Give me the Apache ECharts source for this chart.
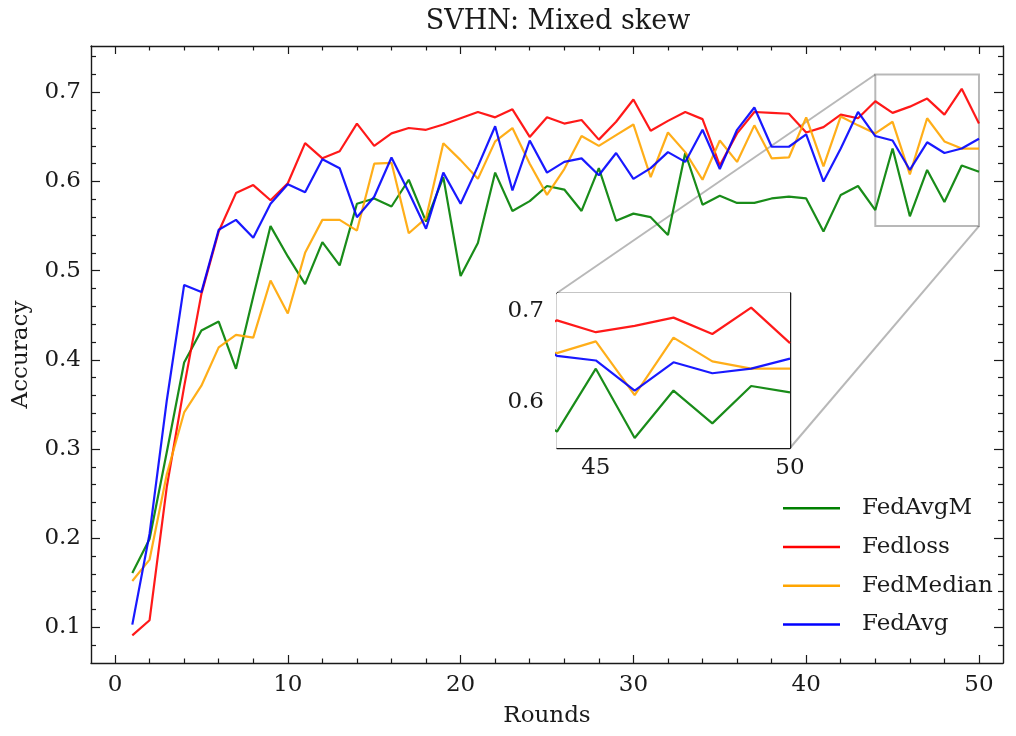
<!DOCTYPE html>
<html>
<head>
<meta charset="utf-8">
<script src="https://cdn.jsdelivr.net/npm/echarts@6/dist/echarts.min.js"></script>
<style>
html, body { margin: 0; padding: 0; background: #fff; }
#main { width: 1016px; height: 736px; }
</style>
</head>
<body>
<div id="main"></div>
<script>
var rounds = [1, 2, 3, 4, 5, 6, 7, 8, 9, 10, 11, 12, 13, 14, 15, 16, 17, 18, 19, 20,
	21, 22, 23, 24, 25, 26, 27, 28, 29, 30, 31, 32, 33, 34, 35, 36, 37, 38, 39, 40,
	41, 42, 43, 44, 45, 46, 47, 48, 49, 50];

var fedAvgM = [0.161, 0.199, 0.297, 0.397, 0.433, 0.443, 0.390, 0.471, 0.550, 0.516,
	0.485, 0.532, 0.506, 0.575, 0.581, 0.572, 0.602, 0.555, 0.605, 0.494,
	0.531, 0.610, 0.567, 0.578, 0.595, 0.591, 0.567, 0.615, 0.556, 0.564,
	0.560, 0.540, 0.632, 0.574, 0.584, 0.576, 0.576, 0.581, 0.583, 0.581,
	0.544, 0.585, 0.595, 0.568, 0.637, 0.561, 0.613, 0.577, 0.618, 0.611];

var fedLoss = [0.091, 0.108, 0.258, 0.370, 0.474, 0.544, 0.587, 0.596, 0.579, 0.598,
	0.643, 0.626, 0.634, 0.665, 0.640, 0.654, 0.660, 0.658, 0.664, 0.671,
	0.678, 0.672, 0.681, 0.650, 0.672, 0.665, 0.669, 0.647, 0.667, 0.692,
	0.657, 0.668, 0.678, 0.670, 0.618, 0.654, 0.678, 0.677, 0.676, 0.655,
	0.661, 0.675, 0.671, 0.690, 0.677, 0.684, 0.693, 0.675, 0.704, 0.665];

var fedMedian = [0.152, 0.176, 0.272, 0.341, 0.371, 0.414, 0.428, 0.425, 0.489, 0.452,
	0.520, 0.557, 0.557, 0.545, 0.620, 0.621, 0.542, 0.559, 0.643, 0.624,
	0.603, 0.645, 0.660, 0.620, 0.585, 0.614, 0.651, 0.640, 0.652, 0.664,
	0.605, 0.655, 0.633, 0.602, 0.646, 0.622, 0.663, 0.626, 0.627, 0.672,
	0.617, 0.673, 0.663, 0.654, 0.667, 0.608, 0.671, 0.645, 0.637, 0.637];

var fedAvg = [0.103, 0.205, 0.355, 0.484, 0.476, 0.546, 0.557, 0.537, 0.575, 0.597,
	0.588, 0.625, 0.615, 0.560, 0.583, 0.627, 0.588, 0.547, 0.610, 0.575,
	0.617, 0.662, 0.590, 0.646, 0.610, 0.622, 0.626, 0.607, 0.632, 0.603,
	0.615, 0.633, 0.622, 0.658, 0.614, 0.658, 0.683, 0.639, 0.639, 0.653,
	0.600, 0.637, 0.678, 0.651, 0.646, 0.613, 0.644, 0.632, 0.637, 0.648];

var names = ['FedAvgM', 'Fedloss', 'FedMedian', 'FedAvg'];
var colors = ['#008000', '#ff0000', '#ffa500', '#0000ff'];

// tick positions
var xMajor = [0, 10, 20, 30, 40, 50];
var xMinor = [2, 4, 6, 8, 12, 14, 16, 18, 22, 24, 26, 28, 32, 34, 36, 38, 42, 44, 46, 48];
var yMajor = [0.1, 0.2, 0.3, 0.4, 0.5, 0.6, 0.7];
var yMinor = [0.08, 0.12, 0.14, 0.16, 0.18, 0.22, 0.24, 0.26, 0.28, 0.32, 0.34, 0.36, 0.38,
	0.42, 0.44, 0.46, 0.48, 0.52, 0.54, 0.56, 0.58, 0.62, 0.64, 0.66, 0.68, 0.72, 0.74];

// zoomed region
var zoomX = [44, 50];
var zoomY = [0.55, 0.72];
var insetXMajor = [45, 50];
var insetXMinor = [46, 47, 48, 49];
var insetYMajor = [0.6, 0.7];
var insetYMinor = [0.56, 0.58, 0.62, 0.64, 0.66, 0.68];

var FONT = 'DejaVu Serif';
var INK = '#1a1a1a';

var mainRect = { left: 91, right: 13, top: 46, bottom: 73 };
var insetRect = { left: 557, top: 293, width: 233, height: 155 };

// one axis per side; majors and minors live on two grids with the same rect
function sideAxes(dim, grid, min, max, ticks, len, showLine, labelOpt) {
	var sides = dim === 'x' ? ['bottom', 'top'] : ['left', 'right'];
	return sides.map(function(side, k) {
		var ax = {
			type: 'value',
			gridIndex: grid,
			position: side,
			min: min,
			max: max,
			axisLine: { show: showLine, onZero: false, lineStyle: { color: INK, width: 1.4 } },
			axisTick: { show: true, inside: true, length: len, customValues: ticks,
				lineStyle: { color: INK, width: 1.2 } },
			axisLabel: { show: false },
			splitLine: { show: false }
		};
		if (k === 0 && labelOpt) {
			ax.axisLabel = Object.assign({
				show: true,
				customValues: ticks,
				fontFamily: FONT,
				fontSize: 23,
				color: INK
			}, labelOpt);
		}
		return ax;
	});
}

var fmtInt = function(v) { return String(v); };
var fmtDec = function(v) { return v.toFixed(1); };

// grid 0: main majors, grid 1: main minors, grid 2: inset majors, grid 3: inset minors
var xAxes = []
	.concat(sideAxes('x', 0, -1.39, 51.39, xMajor, 8, true, { margin: 11, formatter: fmtInt }))
	.concat(sideAxes('x', 1, -1.39, 51.39, xMinor, 4.5, false))
	.concat(sideAxes('x', 2, zoomX[0], zoomX[1], insetXMajor, 7, true, { margin: 9, formatter: fmtInt }))
	.concat(sideAxes('x', 3, zoomX[0], zoomX[1], insetXMinor, 5, false));
var yAxes = []
	.concat(sideAxes('y', 0, 0.06, 0.752, yMajor, 9, true, { margin: 10, formatter: fmtDec }))
	.concat(sideAxes('y', 1, 0.06, 0.752, yMinor, 5, false))
	.concat(sideAxes('y', 2, zoomY[0], zoomY[1], insetYMajor, 7, true, { margin: 13, formatter: fmtDec }))
	.concat(sideAxes('y', 3, zoomY[0], zoomY[1], insetYMinor, 5, false));

xAxes[0].name = 'Rounds';
xAxes[0].nameLocation = 'middle';
xAxes[0].nameGap = 42;
xAxes[0].nameTextStyle = { fontFamily: FONT, fontSize: 23, color: INK };

yAxes[0].name = 'Accuracy';
yAxes[0].nameLocation = 'middle';
yAxes[0].nameGap = 58;
yAxes[0].nameRotate = 90;
yAxes[0].nameTextStyle = { fontFamily: FONT, fontSize: 23, color: INK };

// main axes are index 0 (x bottom / y left), inset axes are index 4
var dataSets = [fedAvgM, fedLoss, fedMedian, fedAvg];
var series = [];
[0, 4].forEach(function(axisIdx) {
	dataSets.forEach(function(vals, i) {
		series.push({
			name: names[i],
			type: 'line',
			xAxisIndex: axisIdx,
			yAxisIndex: axisIdx,
			data: rounds.map(function(r, j) { return [r, vals[j]]; }),
			showSymbol: false,
			symbol: 'none',
			clip: true,
			lineStyle: { color: colors[i], width: 2.2, opacity: 0.9 },
			itemStyle: { color: colors[i] },
			z: 6
		});
	});
});

var chart = echarts.init(document.getElementById('main'), null, { renderer: 'canvas' });

var option = {
	animation: false,
	backgroundColor: '#fff',
	title: {
		text: 'SVHN: Mixed skew',
		left: 553,
		top: 3,
		textAlign: 'center',
		textStyle: { fontFamily: FONT, fontSize: 27, fontWeight: 'normal', color: INK }
	},
	grid: [
		Object.assign({ containLabel: false }, mainRect),
		Object.assign({ containLabel: false }, mainRect),
		Object.assign({ containLabel: false, show: true, backgroundColor: '#fff', borderWidth: 0, z: 4 }, insetRect),
		Object.assign({ containLabel: false }, insetRect)
	],
	legend: {
		orient: 'vertical',
		left: 783,
		top: 489,
		padding: 0,
		itemGap: 0,
		itemWidth: 74,
		itemHeight: 2.5,
		icon: 'path://M0,0H57V2.5H0Z M74,0L74,0.001',
		data: names,
		textStyle: { fontFamily: FONT, fontSize: 23, color: INK, lineHeight: 38.7 }
	},
	xAxis: xAxes,
	yAxis: yAxes,
	series: series
};

chart.setOption(option, true);

// zoom rectangle and connector lines, placed through the axes
var rectTL = chart.convertToPixel({ seriesIndex: 0 }, [zoomX[0], zoomY[1]]);
var rectBR = chart.convertToPixel({ seriesIndex: 0 }, [zoomX[1], zoomY[0]]);
var insTL = chart.convertToPixel({ seriesIndex: 4 }, [zoomX[0], zoomY[1]]);
var insBR = chart.convertToPixel({ seriesIndex: 4 }, [zoomX[1], zoomY[0]]);
var edge = { stroke: 'rgba(0,0,0,0.28)', lineWidth: 2, fill: null };

chart.setOption({
	graphic: [
		{ type: 'rect', z: 1, silent: true,
			shape: { x: rectTL[0], y: rectTL[1], width: rectBR[0] - rectTL[0], height: rectBR[1] - rectTL[1] },
			style: edge },
		{ type: 'line', z: 1, silent: true,
			shape: { x1: insTL[0], y1: insTL[1], x2: rectTL[0], y2: rectTL[1] }, style: edge },
		{ type: 'line', z: 1, silent: true,
			shape: { x1: insBR[0], y1: insBR[1], x2: rectBR[0], y2: rectBR[1] }, style: edge }
	]
});
</script>
</body>
</html>
